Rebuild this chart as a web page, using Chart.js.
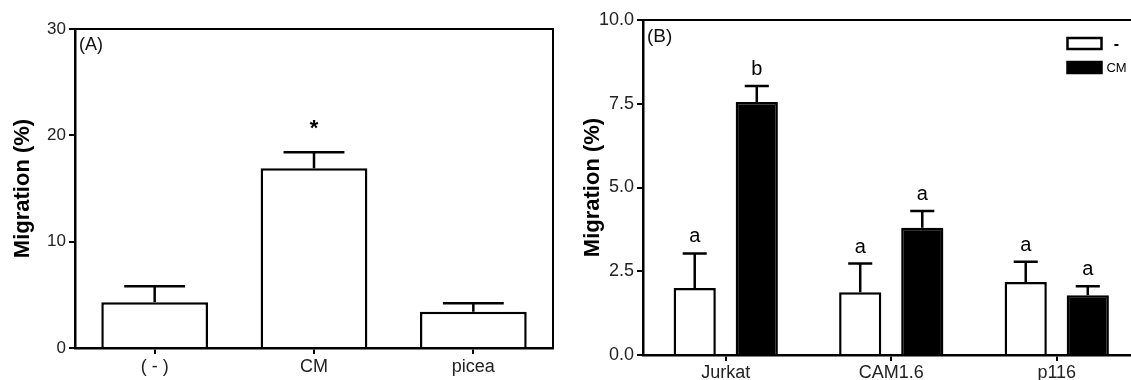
<!DOCTYPE html>
<html>
<head>
<meta charset="utf-8">
<script src="https://cdn.jsdelivr.net/npm/chart.js@4/dist/chart.umd.min.js"></script>
<style>
  html, body { margin:0; padding:0; background:#fff; overflow:hidden; width:1131px; height:380px; }
  #cA { position:absolute; left:0; top:0; }
  #cB { position:absolute; left:560px; top:0; }
</style>
</head>
<body>
<canvas id="cA" width="560" height="380"></canvas>
<canvas id="cB" width="590" height="380"></canvas>
<script>
// ---------- Data: panel A ----------
const categoriesA = ['( - )', 'CM', 'picea'];
const meanA = [4.3, 16.9, 3.4];
const semA = [1.5, 1.5, 0.8];
const signifA = ['', '*', ''];
const yTicksA = [0, 10, 20, 30];

// ---------- Data: panel B ----------
const categoriesB = ['Jurkat', 'CAM1.6', 'p116'];
const seriesNamesB = ['-', 'CM'];
const meanB_minus = [2.0, 1.87, 2.18];
const semB_minus = [1.03, 0.86, 0.6];
const meanB_cm = [7.55, 3.8, 1.78];
const semB_cm = [0.48, 0.5, 0.27];
const signifB_minus = ['a', 'a', 'a'];
const signifB_cm = ['b', 'a', 'a'];
const yTicksB = [0, 2.5, 5, 7.5, 10];

Chart.defaults.font.family = "'Liberation Sans', Arial, sans-serif";
Chart.defaults.color = '#222';
Chart.defaults.animation = false;

const FONT = "'Liberation Sans', Arial, sans-serif";

// error bars + significance letters + frame + panel label
const decorPlugin = {
  id: 'decor',
  afterDatasetsDraw(chart, args, opts) {
    const ctx = chart.ctx;
    const y = chart.scales.y;
    const ca = chart.chartArea;
    ctx.save();
    // frame top & right
    ctx.strokeStyle = '#000';
    ctx.lineWidth = 2;
    ctx.beginPath();
    ctx.moveTo(ca.left, ca.top);
    ctx.lineTo(ca.right, ca.top);
    ctx.lineTo(ca.right, ca.bottom);
    ctx.stroke();
    chart.data.datasets.forEach((ds, i) => {
      const meta = chart.getDatasetMeta(i);
      meta.data.forEach((el, j) => {
        const top = y.getPixelForValue(ds.data[j] + ds.sem[j]);
        const capW = el.width * 0.57;
        ctx.strokeStyle = '#000';
        ctx.lineWidth = 2.5;
        ctx.beginPath();
        ctx.moveTo(el.x, el.y);
        ctx.lineTo(el.x, top);
        ctx.moveTo(el.x - capW / 2, top);
        ctx.lineTo(el.x + capW / 2, top);
        ctx.stroke();
        const s = ds.signif[j];
        if (s) {
          ctx.fillStyle = '#000';
          ctx.font = opts.sigFont;
          ctx.textAlign = 'center';
          ctx.textBaseline = 'alphabetic';
          ctx.fillText(s, el.x, top - opts.sigGap);
        }
      });
    });
    // panel label
    ctx.fillStyle = '#111';
    ctx.font = opts.labelFont;
    ctx.textAlign = 'left';
    ctx.textBaseline = 'top';
    ctx.fillText(opts.panel, ca.left + 4, ca.top + opts.labelDy);
    // optional legend
    if (opts.legend) {
      const bx = ca.right - 72, bw = 34, bh = 11;
      chart.data.datasets.forEach((ds, i) => {
        const by = ca.top + 18 + i * 24;
        ctx.fillStyle = ds.backgroundColor;
        ctx.fillRect(bx, by, bw, bh);
        ctx.strokeStyle = '#000';
        ctx.lineWidth = 2.5;
        ctx.strokeRect(bx, by, bw, bh);
        ctx.fillStyle = '#000';
        ctx.font = (i === 0 ? 'bold 16px ' : '13px ') + FONT;
        ctx.textAlign = 'center';
        ctx.textBaseline = 'middle';
        ctx.fillText(ds.label, bx + bw + 15, by + bh / 2 + 1);
      });
    }
    ctx.restore();
  }
};

function yScale(ticksArr, width, fmt, tickFont, titlePadTop) {
  return {
    min: ticksArr[0],
    max: ticksArr[ticksArr.length - 1],
    afterBuildTicks(s) { s.ticks = ticksArr.map(v => ({ value: v })); },
    afterFit(s) { s.width = width; },
    border: { display: true, color: '#000', width: 2.5 },
    grid: { drawOnChartArea: false, drawTicks: true, tickLength: 6, color: '#000', lineWidth: 2 },
    ticks: { color: '#222', font: { size: tickFont }, padding: 3, callback: fmt },
    title: { display: true, text: 'Migration (%)', color: '#000',
             font: { size: 22, weight: 'bold' }, padding: { top: titlePadTop, bottom: 0 } }
  };
}
function xScale(height, tickFont, pad) {
  return {
    afterFit(s) { s.height = height; },
    border: { display: true, color: '#000', width: 2.5, z: 1 },
    grid: { offset: false, drawOnChartArea: false, drawTicks: true, tickLength: 6, color: '#000', lineWidth: 2 },
    ticks: { color: '#222', font: { size: tickFont }, padding: pad, maxRotation: 0 }
  };
}

new Chart(document.getElementById('cA'), {
  type: 'bar',
  data: {
    labels: categoriesA,
    datasets: [{
      label: 'A', data: meanA, sem: semA, signif: signifA,
      backgroundColor: '#fff', borderColor: '#000', borderWidth: 2.5, borderSkipped: 'start',
      categoryPercentage: 1.0, barPercentage: 0.67
    }]
  },
  options: {
    responsive: false, devicePixelRatio: 1,
    layout: { padding: { left: 0, top: 29, right: 7, bottom: 0 } },
    plugins: {
      legend: { display: false }, tooltip: { enabled: false },
      decor: { panel: '(A)', labelFont: '18px ' + FONT, labelDy: 7, sigFont: 'bold 22px ' + FONT, sigGap: 17 }
    },
    scales: {
      x: xScale(32, 18, 2),
      y: yScale(yTicksA, 75, v => String(v), 17, 10)
    }
  },
  plugins: [decorPlugin]
});

new Chart(document.getElementById('cB'), {
  type: 'bar',
  data: {
    labels: categoriesB,
    datasets: [
      { label: seriesNamesB[0], data: meanB_minus, sem: semB_minus, signif: signifB_minus,
        backgroundColor: '#fff', borderColor: '#000', borderWidth: 2.5, borderSkipped: 'start',
        categoryPercentage: 0.75, barPercentage: 0.68 },
      { label: seriesNamesB[1], data: meanB_cm, sem: semB_cm, signif: signifB_cm,
        backgroundColor: '#000', borderColor: '#000', borderWidth: 2.5, borderSkipped: 'start',
        categoryPercentage: 0.75, barPercentage: 0.68 }
    ]
  },
  options: {
    responsive: false, devicePixelRatio: 1,
    layout: { padding: { left: 0, top: 20, right: 10.5, bottom: 0 } },
    plugins: {
      legend: { display: false }, tooltip: { enabled: false },
      decor: { panel: '(B)', labelFont: '19px ' + FONT, labelDy: 7, sigFont: '20px ' + FONT, sigGap: 11, legend: true }
    },
    scales: {
      x: xScale(25, 18, 1),
      y: yScale(yTicksB, 83, v => Number(v).toFixed(1), 18, 20)
    }
  },
  plugins: [decorPlugin]
});
</script>
</body>
</html>
